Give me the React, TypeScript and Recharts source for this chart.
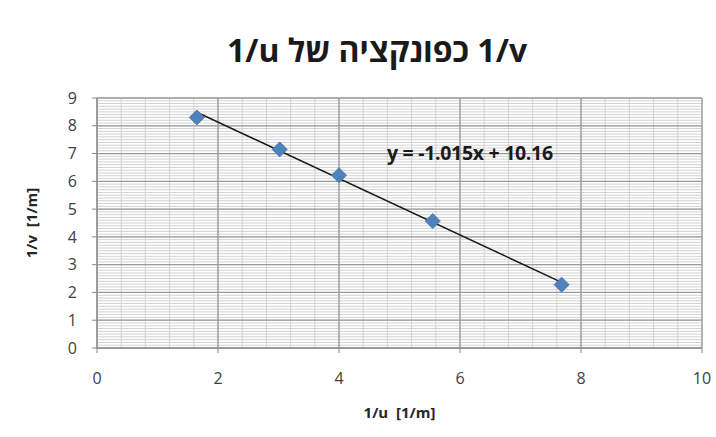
import React from 'react';
import { ScatterChart, Scatter, XAxis, YAxis, ReferenceLine } from 'recharts';

const xValues = [1.65, 3.02, 4.0, 5.55, 7.68];
const yValues = [8.3, 7.15, 6.22, 4.57, 2.28];
const xTicks = [0, 2, 4, 6, 8, 10];
const yTicks = [0, 1, 2, 3, 4, 5, 6, 7, 8, 9];
const slope = -1.015;
const intercept = 10.16;
const titleText = '\u20661/v\u2069 כפונקציה של \u20661/u\u2069';
const equationText = 'y = -1.015x + 10.16';
const xLabel = '1/u\u00a0\u00a0[1/m]';
const yLabel = '1/v\u00a0\u00a0[1/m]';

const points = xValues.map((x, i) => ({ x, y: yValues[i] }));
const minorX: number[] = [];
for (let i = 0; i <= 25; i++) minorX.push(+(i * 0.4).toFixed(2));
const minorY: number[] = [];
for (let i = 0; i <= 90; i++) minorY.push(+(i * 0.1).toFixed(2));
const xMin = Math.min(...xValues);
const xMax = Math.max(...xValues);
const trend = [
  { x: xMin, y: slope * xMin + intercept },
  { x: xMax, y: slope * xMax + intercept },
];

const FONT = '"Open Sans", "DejaVu Sans", sans-serif';

const Diamond = (props: any) => {
  const { cx, cy } = props;
  const r = 7.5;
  return (
    <polygon
      points={`${cx},${cy - r} ${cx + r},${cy} ${cx},${cy + r} ${cx - r},${cy}`}
      fill="#4F81BD"
      stroke="#4A7AB5"
      strokeWidth={1}
    />
  );
};

export default function App() {
  return (
    <div style={{ position: 'absolute', left: 0, top: 0, width: 716, height: 437, background: '#fff', fontFamily: FONT }}>
      <div
        dir="rtl"
        style={{
          position: 'absolute',
          left: 0,
          width: 754,
          top: 30,
          textAlign: 'center',
          fontSize: 32,
          fontWeight: 700,
          color: '#1a1a1a',
          lineHeight: '40px',
        }}
      >
        {titleText}
      </div>
      <ScatterChart width={716} height={437} margin={{ top: 98, right: 14, bottom: 14, left: 10 }}>
        {minorY.map((v) => (
          <ReferenceLine key={'my' + v} y={v} stroke="#d2d2d2" strokeWidth={1} />
        ))}
        {minorX.map((v) => (
          <ReferenceLine key={'mx' + v} x={v} stroke="#d2d2d2" strokeWidth={1} />
        ))}
        {yTicks.map((v) => (
          <ReferenceLine key={'Y' + v} y={v} stroke="#9a9a9a" strokeWidth={1.3} />
        ))}
        {xTicks.map((v) => (
          <ReferenceLine key={'X' + v} x={v} stroke="#9a9a9a" strokeWidth={1.3} />
        ))}
        <XAxis
          type="number"
          dataKey="x"
          domain={[0, 10]}
          ticks={xTicks}
          height={75}
          tickSize={5}
          tickMargin={20}
          stroke="#868686"
          tick={{ fill: '#404040', fontSize: 16, fontFamily: FONT }}
          label={{ value: xLabel, position: 'insideBottom', offset: 5, fill: '#262626', fontSize: 15, fontWeight: 700, fontFamily: FONT }}
        />
        <YAxis
          type="number"
          dataKey="y"
          domain={[0, 9]}
          ticks={yTicks}
          width={87}
          tickSize={5}
          tickMargin={15}
          stroke="#868686"
          tick={{ fill: '#404040', fontSize: 16, fontFamily: FONT }}
          label={{ value: yLabel, angle: -90, position: 'insideLeft', offset: 22, fill: '#262626', fontSize: 15, fontWeight: 700, fontFamily: FONT, style: { textAnchor: 'middle' } }}
        />
        <ReferenceLine
          segment={trend}
          stroke="#1a1a1a"
          strokeWidth={1.5}
          ifOverflow="visible"
        />
        <Scatter data={points} shape={<Diamond />} isAnimationActive={false} />
      </ScatterChart>
      <div
        style={{
          position: 'absolute',
          left: 387,
          top: 140,
          fontSize: 19.5,
          fontWeight: 700,
          color: '#1a1a1a',
          whiteSpace: 'nowrap',
          lineHeight: '26px',
          letterSpacing: '-0.3px',
        }}
      >
        {equationText}
      </div>
    </div>
  );
}
